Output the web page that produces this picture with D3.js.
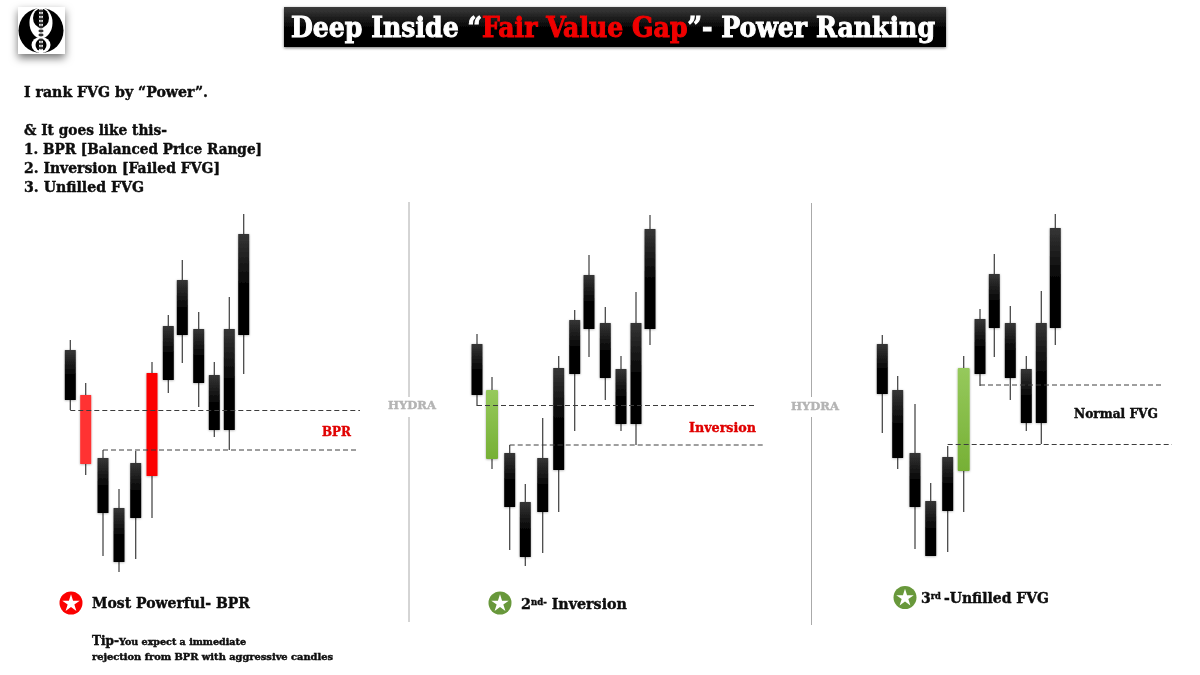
<!DOCTYPE html>
<html><head><meta charset="utf-8">
<script src="https://cdn.jsdelivr.net/npm/d3@7/dist/d3.min.js"></script>
<style>
html,body{margin:0;padding:0;background:#fff}
svg{display:block}
text{font-family:"DejaVu Serif",serif;font-weight:bold;fill:#0a0a0a}
</style></head><body>
<svg id="c" width="1200" height="675"></svg>
<script>
const candleKinds1 = ["dark","lightRed","dark","dark","dark","red","dark","dark","dark","dark","dark","dark"];
const barPos1  = [70.3,85.7,103,119,135.7,152,168.3,182.3,198.7,214.3,229.3,243.7];
const bodyTop1 = [325,280,217,167,212,302,349,395,346,300,346,441];
const bodyBot1 = [275,211,162,113,157,199,295,340,292,245,245,340];
const high1    = [335,292,225,186,224,313,360,415,363,313,378,461];
const low1     = [265,200,119,103,116,157,282,312,268,238,225,301];

const candleKinds2 = ["dark","green","dark","dark","dark","dark","dark","dark","dark","dark","dark","dark"];
const barPos2  = [477,492,509.7,525.3,542.7,558.7,574.7,589,605.3,621,636,650];
const bodyTop2 = [331,285,222,173,217,307,355,400,352,306,352,446];
const bodyBot2 = [280,216,168,118,163,205,301,346,297,251,251,346];
const high2    = [341,298,230,191,257,319,365,420,368,319,383,460];
const low2     = [269,206,125,109,122,163,244,318,275,244,230,330];

const candleKinds3 = ["dark","dark","dark","dark","dark","green","dark","dark","dark","dark","dark","dark"];
const barPos3  = [882.3,897.7,915,930.7,947.7,963.7,980,994.3,1010.3,1026.3,1041.3,1055.3];
const bodyTop3 = [331,285,222,174,218,307,356,401,352,306,352,447];
const bodyBot3 = [281,217,168,119,164,204,301,347,297,252,252,347];
const high3    = [340,299,271,192,229,319,366,421,369,319,384,461];
const low3     = [242,206,126,119,123,163,289,318,275,244,231,330];

// Dashed levels: [price, start bar position, end bar position]
const levels1 = [[264.5,70.3,360],[225,103,358]];
const levels2 = [[269.5,477,755],[230,509.7,765]];
const levels3 = [[290,980,1164],[230.5,947.7,1172]];

const introLines = ["I rank FVG by “Power”.","& It goes like this-","1. BPR [Balanced Price Range]","2. Inversion [Failed FVG]","3. Unfilled FVG"];
const hydraLabel = "HYDRA";

const svg = d3.select("#c");
const x = d3.scaleLinear().domain([0,1200]).range([0,1200]);
const y = d3.scaleLinear().domain([0,675]).range([675,0]);
const defs = svg.append("defs");

function grad(id, stops){
  const g = defs.append("linearGradient").attr("id",id).attr("x1",0).attr("y1",0).attr("x2",0).attr("y2",1);
  stops.forEach(s=>g.append("stop").attr("offset",s[0]).attr("stop-color",s[1]));
}
grad("gDark",[[0,"#363636"],[0.55,"#000"],[1,"#000"]]);
grad("gTitle",[[0,"#3c3c3c"],[0.5,"#050505"],[1,"#000"]]);
grad("gGreen",[[0,"#96c95c"],[1,"#76b035"]]);
function shadow(id,dy,sd,op){
  const f = defs.append("filter").attr("id",id).attr("x","-50%").attr("y","-50%").attr("width","200%").attr("height","200%");
  f.append("feDropShadow").attr("dx",0).attr("dy",dy).attr("stdDeviation",sd).attr("flood-color","#000").attr("flood-opacity",op);
}
shadow("sCandle",0.5,1.2,0.35);
shadow("sTitle",1,1.5,0.55);
shadow("sLogo",4,4,0.55);
defs.append("filter").attr("id","soft").append("feGaussianBlur").attr("stdDeviation",0.35);

const root = svg.append("g").attr("filter","url(#soft)");

// Logo
const logo = root.append("g");
logo.append("rect").attr("x",18).attr("y",7).attr("width",47).attr("height",47).attr("fill","#fff").attr("filter","url(#sLogo)");
logo.append("circle").attr("cx",41).attr("cy",30.5).attr("r",22.5).attr("fill","#000");
logo.append("ellipse").attr("cx",41).attr("cy",22.7).attr("rx",11.5).attr("ry",15.5).attr("fill","#fff");
logo.append("ellipse").attr("cx",41).attr("cy",18).attr("rx",8).attr("ry",9.5).attr("fill","#000");
logo.append("ellipse").attr("cx",41).attr("cy",45).attr("rx",9.5).attr("ry",8).attr("fill","#fff");
logo.append("ellipse").attr("cx",41).attr("cy",45).attr("rx",5.5).attr("ry",6).attr("fill","#000");
logo.append("rect").attr("x",39).attr("y",8).attr("width",4).attr("height",45).attr("fill","#fff");
logo.selectAll("ellipse.m").data([11,15,19,23,27,31,35,40,44,48]).join("ellipse").attr("class","m")
  .attr("cx",41).attr("cy",d=>d).attr("rx",2.6).attr("ry",1.4).attr("fill","#333");

// Title bar
root.append("rect").attr("x",284).attr("y",7).attr("width",662).attr("height",40).attr("fill","url(#gTitle)").attr("filter","url(#sTitle)");
const title = root.append("text").attr("x",291).attr("y",37).attr("font-size",27)
  .attr("textLength",644).attr("lengthAdjust","spacingAndGlyphs").style("font-stretch","condensed").style("font-family","'DejaVu Serif Condensed','DejaVu Serif',serif").style("fill","#fff");
title.append("tspan").text("Deep Inside “").style("fill","#fff");
title.append("tspan").text("Fair Value Gap").style("fill","#f00000");
title.append("tspan").text("”- Power Ranking").style("fill","#fff");

// Intro block
const introY = [97,135,154,173,192], introW = [184,143,238,196,120];
root.selectAll("text.intro").data(introLines).join("text").attr("class","intro")
  .attr("x",24).attr("y",(d,i)=>introY[i]).attr("font-size",14.5)
  .attr("textLength",(d,i)=>introW[i]).attr("lengthAdjust","spacingAndGlyphs").text(d=>d);

// Panel separators and watermarks
[[409,202,397,417,622],[811.5,203,397,417,625]].forEach(s=>{
  root.append("line").attr("x1",s[0]).attr("x2",s[0]).attr("y1",s[1]).attr("y2",s[2]).attr("stroke","#aaa");
  root.append("line").attr("x1",s[0]).attr("x2",s[0]).attr("y1",s[3]).attr("y2",s[4]).attr("stroke","#aaa");
});
[[388,409],[791,410]].forEach(p=>root.append("text").attr("x",p[0]).attr("y",p[1]).attr("font-size",10.5)
  .attr("textLength",48).attr("lengthAdjust","spacingAndGlyphs").style("fill","#b4b4b4").text(hydraLabel));

function drawPanel(pos,top,bot,hi,lo,kinds,levels){
  const g = root.append("g");
  const rows = pos.map((p,i)=>({p,top:top[i],bot:bot[i],hi:hi[i],lo:lo[i],kind:kinds[i]}));
  g.selectAll("line.w").data(rows).join("line").attr("class","w")
    .attr("x1",d=>x(d.p)).attr("x2",d=>x(d.p)).attr("y1",d=>y(d.hi)).attr("y2",d=>y(d.lo))
    .attr("stroke","#444").attr("stroke-width",1.25);
  const fills = {dark:"url(#gDark)",red:"#fb0000",lightRed:"#ff3030",green:"url(#gGreen)"};
  const w = d=> (d.kind==="green"?12:11);
  g.selectAll("rect.b").data(rows).join("rect").attr("class","b")
    .attr("x",d=>x(d.p)-w(d)/2).attr("width",w).attr("y",d=>y(d.top)).attr("height",d=>y(d.bot)-y(d.top))
    .attr("rx",d=>d.kind==="green"?1:0.5).attr("fill",d=>fills[d.kind]).attr("filter","url(#sCandle)");
  g.selectAll("line.l").data(levels).join("line").attr("class","l")
    .attr("x1",d=>x(d[1])).attr("x2",d=>x(d[2])).attr("y1",d=>y(d[0])).attr("y2",d=>y(d[0]))
    .attr("stroke","#3c3c3c").attr("stroke-width",1).attr("stroke-dasharray","5,3");
}
drawPanel(barPos1,bodyTop1,bodyBot1,high1,low1,candleKinds1,levels1);
drawPanel(barPos2,bodyTop2,bodyBot2,high2,low2,candleKinds2,levels2);
drawPanel(barPos3,bodyTop3,bodyBot3,high3,low3,candleKinds3,levels3);

// Zone labels
function lab(tx,ty,s,w,fs,col){
  return root.append("text").attr("x",tx).attr("y",ty).attr("font-size",fs).attr("textLength",w)
    .attr("lengthAdjust","spacingAndGlyphs").style("fill",col).text(s);
}
lab(322,436,"BPR",29,12.5,"#e00000");
lab(689,432,"Inversion",67,12.5,"#e00000");
lab(1074,418,"Normal FVG",84,12.5,"#0a0a0a");

// Rank badges
const star = d3.symbol().type(d3.symbolStar).size(95);
[[71,603,"#fb0000"],[500,603,"#68983a"],[905,597.5,"#68983a"]].forEach(b=>{
  root.append("circle").attr("cx",b[0]).attr("cy",b[1]).attr("r",11.5).attr("fill",b[2]);
  root.append("path").attr("d",star()).attr("transform",`translate(${b[0]},${b[1]+0.5})`).attr("fill","#fff");
});
lab(92,608,"Most Powerful- BPR",158,15,"#0a0a0a");

const t2 = root.append("text").attr("x",521).attr("y",609).attr("font-size",15).attr("textLength",106).attr("lengthAdjust","spacingAndGlyphs");
t2.append("tspan").text("2");
t2.append("tspan").text("nd-").attr("dy",-4).attr("font-size",9);
t2.append("tspan").text(" Inversion").attr("dy",4);
const t3 = root.append("text").attr("x",921).attr("y",603).attr("font-size",15).attr("textLength",128).attr("lengthAdjust","spacingAndGlyphs");
t3.append("tspan").text("3");
t3.append("tspan").text("rd ").attr("dy",-4).attr("font-size",9);
t3.append("tspan").text("-Unfilled FVG").attr("dy",4);

// Tip
const tip = root.append("text").attr("x",92).attr("y",645).attr("font-size",12).attr("textLength",154).attr("lengthAdjust","spacingAndGlyphs");
tip.append("tspan").text("Tip-");
tip.append("tspan").text("You expect a immediate").attr("font-size",9.5);
lab(92,660,"rejection from BPR with aggressive candles",241,9.5,"#0a0a0a");

// Heavier slab weight, matching the reference's extra-bold face
root.selectAll("text,tspan").each(function(){
  const s = getComputedStyle(this);
  const big = parseFloat(s.fontSize) > 20;
  d3.select(this).attr("stroke",s.fill).attr("stroke-width",big?0.9:0.4);
});
</script>
</body></html>
